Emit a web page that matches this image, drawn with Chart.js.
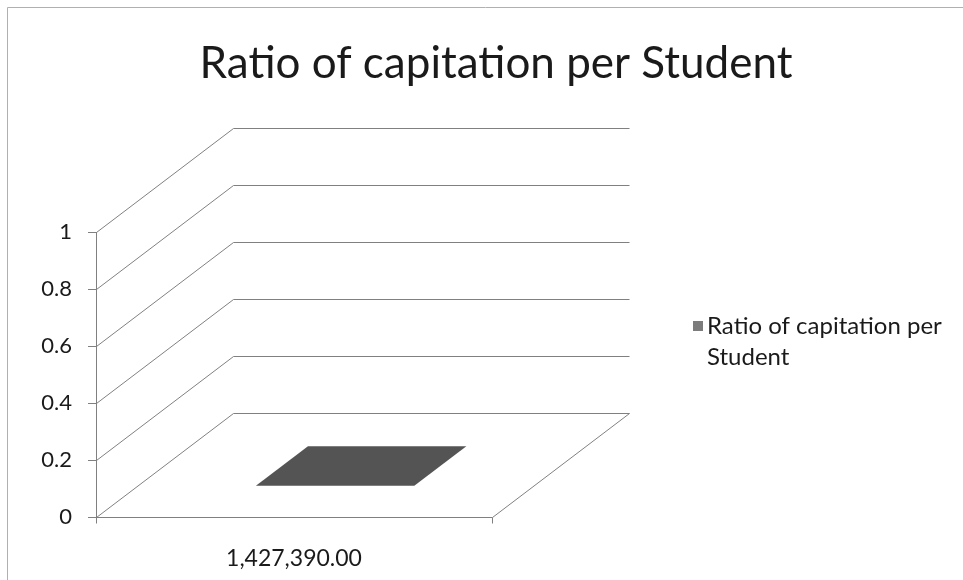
<!DOCTYPE html>
<html>
<head>
<meta charset="utf-8">
<script src="https://cdn.jsdelivr.net/npm/chart.js@4"></script>
<style>
  html, body { margin: 0; padding: 0; background: #fff; }
  #wrap { width: 963px; height: 580px; }
</style>
</head>
<body>
<div id="wrap"><canvas id="chart" width="963" height="580"></canvas></div>
<script>
// data
const title = 'Ratio of capitation per Student';
const seriesName = 'Ratio of capitation per Student';
const categories = ['1,427,390.00'];
const values = [0];
const yTicks = [0, 0.2, 0.4, 0.6, 0.8, 1];

/**
 * fake 3D frame: floor, side wall, back wall, flat box bar
 */
const DEPTH_X = 137;
const DEPTH_Y = 104;
const LINE = '#808080';

function line(ctx, x1, y1, x2, y2) {
  ctx.beginPath();
  ctx.moveTo(x1 + 0.5, y1 + 0.5);
  ctx.lineTo(x2 + 0.5, y2 + 0.5);
  ctx.stroke();
}

const frame3d = {
  id: 'frame3d',
  beforeDatasetsDraw(chart) {
    const ctx = chart.ctx;
    const a = chart.chartArea;
    const y = chart.scales.y;
    ctx.save();
    ctx.strokeStyle = LINE;
    ctx.lineWidth = 1;
    yTicks.forEach((v) => {
      const py = Math.round(y.getPixelForValue(v));
      line(ctx, a.left, py, a.left + DEPTH_X, py - DEPTH_Y);
      line(ctx, a.left + DEPTH_X, py - DEPTH_Y, a.right + DEPTH_X, py - DEPTH_Y);
    });
    // floor front edge, right edge, category ticks
    line(ctx, a.left, a.bottom, a.right, a.bottom);
    line(ctx, a.right, a.bottom, a.right + DEPTH_X, a.bottom - DEPTH_Y);
    line(ctx, a.left, a.bottom, a.left, a.bottom + 6);
    line(ctx, a.right, a.bottom, a.right, a.bottom + 6);
    ctx.restore();
  },
  afterDatasetsDraw(chart) {
    const ctx = chart.ctx;
    const d0 = 0.3, d1 = 0.68;
    chart.getDatasetMeta(0).data.forEach((bar) => {
      const l = bar.x - bar.width / 2, r = bar.x + bar.width / 2;
      const top = bar.y, base = bar.base;
      const ox0 = d0 * DEPTH_X, oy0 = d0 * DEPTH_Y;
      const ox1 = d1 * DEPTH_X, oy1 = d1 * DEPTH_Y;
      ctx.save();
      ctx.fillStyle = '#545454';
      // front face
      ctx.fillRect(l + ox0, top - oy0, r - l, base - top);
      // top face
      ctx.beginPath();
      ctx.moveTo(l + ox0, top - oy0);
      ctx.lineTo(r + ox0, top - oy0);
      ctx.lineTo(r + ox1, top - oy1);
      ctx.lineTo(l + ox1, top - oy1);
      ctx.closePath();
      ctx.fill();
      ctx.restore();
    });
  },
  afterDraw(chart) {
    const ctx = chart.ctx;
    ctx.save();
    // outer chart border
    ctx.strokeStyle = '#b0b0b0';
    line(ctx, 7, 7, 963, 7);
    line(ctx, 7, 7, 7, 580);
    // title
    ctx.fillStyle = '#1a1a1a';
    ctx.font = '44px Lato';
    ctx.textAlign = 'center';
    ctx.textBaseline = 'alphabetic';
    ctx.fillText(title, 496, 78);
    // legend, wrapped like the original
    ctx.fillStyle = '#7c7c7c';
    ctx.fillRect(693, 321, 10, 10);
    ctx.fillStyle = '#1a1a1a';
    ctx.font = '24px Lato';
    ctx.textAlign = 'left';
    const words = seriesName.split(' ');
    ctx.fillText(words.slice(0, 4).join(' '), 707, 334);
    ctx.fillText(words.slice(4).join(' '), 707, 365);
    ctx.restore();
  }
};

const ctx = document.getElementById('chart').getContext('2d');
const myChart = new Chart(ctx, {
  type: 'bar',
  data: {
    labels: categories,
    datasets: [{
      label: seriesName,
      data: values,
      backgroundColor: 'rgba(0,0,0,0)',
      barPercentage: 0.4,
      categoryPercentage: 1
    }]
  },
  options: {
    responsive: false,
    animation: false,
    layout: { padding: { top: 232, right: 471, left: 0, bottom: 0 } },
    plugins: {
      legend: { display: false },
      title: { display: false },
      tooltip: { enabled: false }
    },
    scales: {
      x: {
        grid: { display: false },
        border: { display: false },
        ticks: { color: '#1a1a1a', font: { family: 'Lato', size: 23 }, padding: 20 },
        afterFit(scale) { scale.height = 63; }
      },
      y: {
        min: 0,
        max: 1,
        ticks: {
          stepSize: 0.2,
          color: '#1a1a1a',
          font: { family: 'Lato', size: 22 },
          padding: 16,
          callback: (v) => String(Number(v.toFixed(2)))
        },
        grid: { drawOnChartArea: false, tickLength: 8, color: LINE },
        border: { color: LINE },
        afterFit(scale) { scale.width = 96; }
      }
    }
  },
  plugins: [frame3d]
});
</script>
</body>
</html>
